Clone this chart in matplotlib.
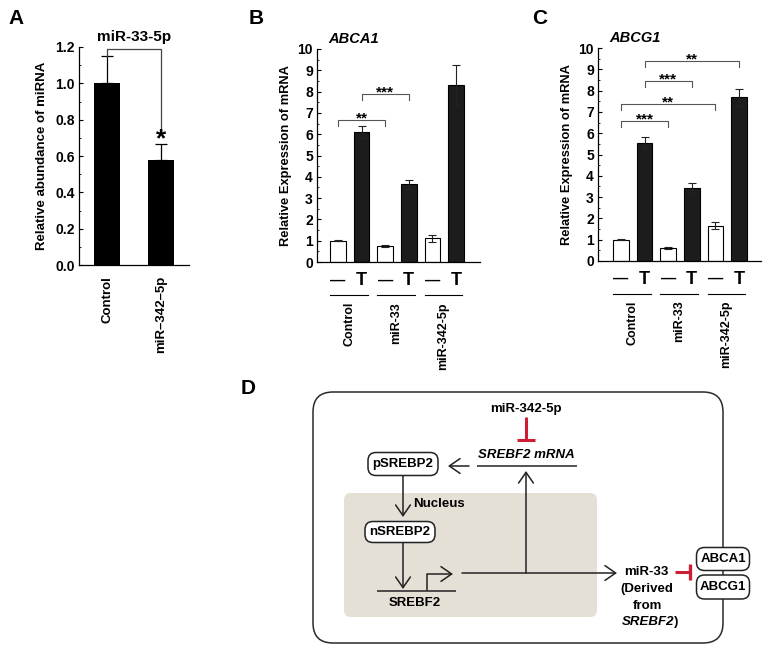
import matplotlib
matplotlib.use('Agg')
import matplotlib.pyplot as plt
from matplotlib.patches import FancyBboxPatch, FancyArrowPatch
from matplotlib.ticker import MultipleLocator, FormatStrFormatter
import matplotlib.transforms as mtransforms

plt.rcParams['font.family'] = ['Liberation Sans', 'DejaVu Sans']
plt.rcParams['font.weight'] = 'bold'

# Panel A: miR-33-5p abundance
a_groups = ['Control', 'miR–342–5p']
a_means = [1.00, 0.58]
a_errs = [0.15, 0.085]

# Panels B / C: ABCA1 and ABCG1 expression
bc_conditions = ['—', 'T', '—', 'T', '—', 'T']
bc_groups = ['Control', 'miR-33', 'miR-342-5p']
abca1_means = [1.00, 6.10, 0.75, 3.65, 1.12, 8.30]
abca1_errs = [0.03, 0.28, 0.05, 0.22, 0.17, 0.93]
abcg1_means = [1.00, 5.55, 0.62, 3.43, 1.65, 7.68]
abcg1_errs = [0.03, 0.27, 0.04, 0.22, 0.17, 0.40]

# significance brackets: (left bar, right bar, height, label)
abca1_sig = [(0, 2, 6.65, '**'), (1, 3, 7.90, '***')]
abcg1_sig = [(0, 2, 6.56, '***'), (0, 4, 7.39, '**'), (1, 3, 8.44, '***'), (1, 5, 9.38, '**')]

W, H = 764, 646
fig = plt.figure(figsize=(W / 100, H / 100), dpi=100)

# background axes in pixel units for the diagram and panel letters
axd = fig.add_axes([0, 0, 1, 1])
axd.set_xlim(0, W)
axd.set_ylim(H, 0)
axd.axis('off')


def px_axes(l, t, r, b):
    return fig.add_axes([l / W, 1 - b / H, (r - l) / W, (b - t) / H])


def style_axes(ax):
    ax.spines['top'].set_visible(False)
    ax.spines['right'].set_visible(False)
    for s in ('left', 'bottom'):
        ax.spines[s].set_linewidth(0.9)
    ax.tick_params(axis='y', which='major', direction='in', length=3, width=0.8, labelsize=10, pad=3)
    ax.tick_params(axis='y', which='minor', direction='in', length=1.5, width=0.6)
    for lab in ax.get_yticklabels():
        lab.set_fontweight('bold')


# ---- Panel A ----
axA = px_axes(79, 47, 189, 265)
xa = range(len(a_means))
axA.bar(xa, a_means, width=0.48, color='black', zorder=2)
axA.errorbar(xa, a_means, yerr=[[0, 0], a_errs], fmt='none', ecolor='black',
             elinewidth=0.9, capsize=4, capthick=0.9, zorder=1)
axA.set_xlim(-0.52, 1.52)
axA.set_ylim(0, 1.2)
axA.yaxis.set_major_locator(MultipleLocator(0.2))
axA.yaxis.set_minor_locator(MultipleLocator(0.1))
axA.yaxis.set_major_formatter(FormatStrFormatter('%.1f'))
axA.set_xticks(list(xa))
axA.set_xticklabels(a_groups, rotation=90, fontsize=9.5, fontweight='bold')
axA.tick_params(axis='x', length=0, pad=8)
style_axes(axA)
axA.set_ylabel('Relative abundance of miRNA', fontsize=9.5, fontweight='bold', labelpad=5)
axA.set_title('miR-33-5p', fontsize=11, fontweight='bold', pad=4)
top_a = a_means[0] + a_errs[0]
axA.plot([0, 0, 1, 1], [top_a, 1.19, 1.19, 0.73], color='#444444', lw=0.9, clip_on=False)
axA.text(1, 0.655, '*', ha='center', va='baseline', fontsize=19, fontweight='bold')


def expr_panel(ax, means, errs, sig, title, ylo):
    x = list(range(len(means)))
    colors = ['white' if c == '—' else '#1c1c1c' for c in bc_conditions]
    ax.bar(x, means, width=0.66, color=colors, edgecolor='black', linewidth=0.8, zorder=2)
    ax.errorbar(x, means, yerr=errs, fmt='none', ecolor='#222222', elinewidth=0.8,
                capsize=3, capthick=0.8, zorder=3)
    ax.set_ylim(0, 10)
    ax.yaxis.set_major_locator(MultipleLocator(1))
    ax.yaxis.set_minor_locator(MultipleLocator(0.5))
    ax.set_xticks(x)
    ax.set_xticklabels([])
    ax.tick_params(axis='x', direction='in', length=3, width=0.6)
    style_axes(ax)
    ax.set_ylabel('Relative Expression of mRNA', fontsize=9.3, fontweight='bold', labelpad=4)
    ax.set_title(title, fontsize=10.5, fontweight='bold', style='italic', loc='left',
                 x=0.07, pad=4)
    for i, j, y, lab in sig:
        ax.plot([i, i, j, j], [y - 0.28, y, y, y - 0.28], color='#555555', lw=0.8)
        ax.text((i + j) / 2, y - 0.12, lab, ha='center', va='baseline', fontsize=11,
                fontweight='bold')
    trans = mtransforms.blended_transform_factory(ax.transData, ax.transAxes)
    for xi, c in zip(x, bc_conditions):
        ax.text(xi, ylo, c, transform=trans, ha='center', va='center',
                fontsize=11 if c == '—' else 13, fontweight='bold')
    for g, name in enumerate(bc_groups):
        c = 2 * g + 0.47
        ax.plot([c - 0.8, c + 0.8], [ylo - 0.068, ylo - 0.068], transform=trans,
                color='black', lw=0.8, clip_on=False)
        ax.text(c, ylo - 0.1, name, transform=trans, rotation=90, ha='center', va='top',
                fontsize=9, fontweight='bold')


axB = px_axes(317, 49, 480, 262)
axB.set_xlim(-0.89, 6.02)
expr_panel(axB, abca1_means, abca1_errs, abca1_sig, 'ABCA1', -0.088)

axC = px_axes(598, 48, 761, 261)
axC.set_xlim(-0.97, 5.93)
expr_panel(axC, abcg1_means, abcg1_errs, abcg1_sig, 'ABCG1', -0.085)

# ---- panel letters ----
for lab, (px, py) in zip('ABCD', [(16, 18), (256, 18), (540, 18), (248, 389)]):
    axd.text(px, py, lab, ha='center', va='center', fontsize=15, fontweight='bold')

# ---- Panel D: diagram ----
red = '#cc1f36'
axd.add_patch(FancyBboxPatch((313, 392), 410, 251, boxstyle='round,pad=0,rounding_size=20',
                             fc='white', ec='#2a2a2a', lw=1.1, zorder=1))
axd.add_patch(FancyBboxPatch((344, 493), 253, 124, boxstyle='round,pad=0,rounding_size=7',
                             fc='#e5e0d6', ec='none', zorder=2))


def node(cx, cy, w, h, label):
    axd.add_patch(FancyBboxPatch((cx - w / 2, cy - h / 2), w, h,
                                 boxstyle='round,pad=0,rounding_size=8',
                                 fc='white', ec='#222222', lw=1.1, zorder=5))
    axd.text(cx, cy, label, ha='center', va='center', fontsize=9.5, fontweight='bold', zorder=6)


def arrow(x0, y0, x1, y1):
    axd.add_patch(FancyArrowPatch((x0, y0), (x1, y1),
                                  arrowstyle='->,head_length=0.55,head_width=0.38',
                                  mutation_scale=14, lw=1.1, color='#222222',
                                  shrinkA=0, shrinkB=0, zorder=4))


def line(xs, ys, **kw):
    kw.setdefault('color', '#222222')
    kw.setdefault('lw', 1.1)
    axd.plot(xs, ys, solid_capstyle='butt', zorder=4, **kw)


def label(x, y, s, **kw):
    axd.text(x, y, s, va='center', fontsize=9.5, fontweight='bold', zorder=6,
             **{'ha': 'center', **kw})


node(403, 464, 70, 23, 'pSREBP2')
node(400, 532, 70, 21, 'nSREBP2')
node(723, 559, 53, 23, 'ABCA1')
node(723, 587, 53, 24, 'ABCG1')

label(526, 409, 'miR-342-5p')
line([526, 526], [417, 440], color=red, lw=2.2)
line([517, 535], [440, 440], color=red, lw=2.2)
label(526, 455, 'SREBF2 mRNA', style='italic')
line([477, 577], [466, 466])
arrow(469, 466, 448, 466)

arrow(403, 476, 403, 517)
label(413, 504, 'Nucleus', ha='left')
arrow(403, 542, 403, 589)
line([377, 456], [591, 591])
label(415, 603, 'SREBF2')
line([427, 427], [591, 574])
arrow(427, 574, 453, 574)
arrow(462, 573, 617, 573)
arrow(526, 573, 526, 471)

label(646, 572, 'miR-33')
label(647, 589, '(Derived')
label(647, 606, 'from')
label(674, 622, 'SREBF2', ha='right', style='italic')
label(674, 622, ')', ha='left')
line([675, 690], [572, 572], color=red, lw=2.2)
line([690, 690], [564, 580], color=red, lw=2.4)

fig.savefig('out.png', dpi=100)
